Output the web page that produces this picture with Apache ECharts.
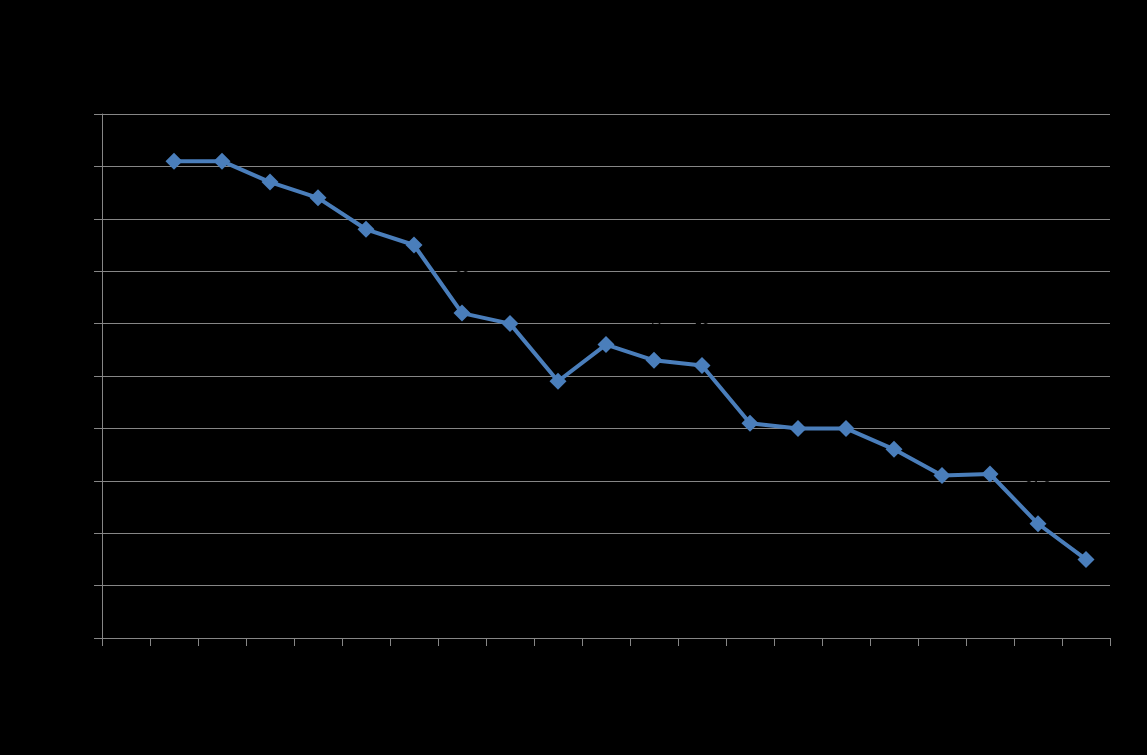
<!DOCTYPE html>
<html>
<head>
<meta charset="utf-8">
<script src="https://cdn.jsdelivr.net/npm/echarts@6/dist/echarts.min.js"></script>
<style>html,body{margin:0;padding:0;background:#000;}#c{width:1147px;height:755px;}</style>
</head>
<body>
<div id="c"></div>
<script>
const categories = ['1','2','3','4','5','6','7','8','9','10','11','12','13','14','15','16','17','18','19','20','21'];
const values = [null, 91, 91, 87, 84, 78, 75, 62, 60, 49, 56, 53, 52, 41, 40, 40, 36, 31, 31.3, 21.8, 15];
const yTicks = [0, 10, 20, 30, 40, 50, 60, 70, 80, 90, 100];

const chart = echarts.init(document.getElementById('c'));
chart.setOption({
  backgroundColor: '#000000',
  animation: false,
  grid: { left: 102, right: 37, top: 114, bottom: 117, containLabel: false },
  xAxis: {
    type: 'category',
    data: categories,
    boundaryGap: true,
    axisLine: { lineStyle: { color: '#868686', width: 1 } },
    axisTick: { show: true, length: 8, lineStyle: { color: '#868686' }, alignWithLabel: false },
    axisLabel: { color: '#000000', fontFamily: 'Liberation Sans', fontSize: 13 },
    splitLine: { show: false }
  },
  yAxis: {
    type: 'value',
    min: yTicks[0],
    max: yTicks[yTicks.length - 1],
    interval: 10,
    axisLine: { show: true, lineStyle: { color: '#868686', width: 1 } },
    axisTick: { show: true, inside: false, length: 8, lineStyle: { color: '#868686' } },
    axisLabel: { color: '#000000', fontFamily: 'Liberation Sans', fontSize: 13 },
    splitLine: { show: true, lineStyle: { color: '#868686', width: 1 } }
  },
  series: [{
    type: 'line',
    data: values,
    connectNulls: false,
    symbol: 'diamond',
    symbolSize: 17,
    lineStyle: { color: '#4a7ebb', width: 4 },
    itemStyle: { color: '#4a7ebb' },
    label: { show: true, position: 'top', distance: 22, color: '#000000', fontFamily: 'Liberation Sans', fontSize: 13 }
  }]
});
</script>
</body>
</html>
